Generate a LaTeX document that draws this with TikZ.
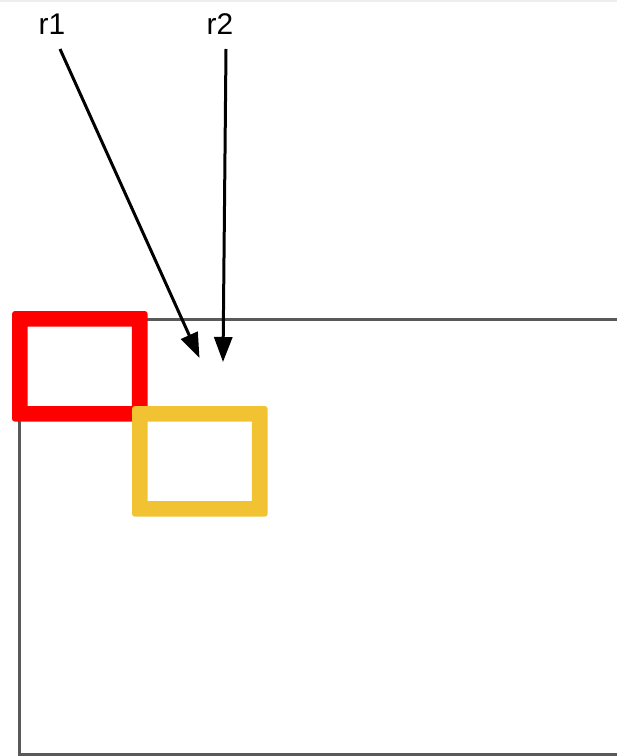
\documentclass[tikz,border=0pt]{standalone}
\usepackage{fontspec}
\setmainfont{Liberation Sans}
\usetikzlibrary{arrows.meta}
\definecolor{boxgray}{HTML}{595959}
\definecolor{boxyellow}{HTML}{F1C232}
\definecolor{topgray}{HTML}{EEEEEE}
\begin{document}
\begin{tikzpicture}[x=1bp,y=-1bp,
  lbl/.style={anchor=base,inner sep=0pt,font=\fontsize{30}{36}\selectfont},
  arr/.style={line width=3bp,-{Triangle[length=25bp,width=18bp]}}]
\useasboundingbox (0,0) rectangle (617,756);
\fill[topgray] (0,0) rectangle (617,2);
\begin{scope}
\clip (0,0) rectangle (617,756);
\draw[boxgray,line width=3bp] (640,319) -- (19.5,319) -- (19.5,754.5) -- (640,754.5);
\end{scope}
% red box
\fill[red,even odd rule] [rounded corners=3bp] (12,311) rectangle (147.7,421.7) [sharp corners] (27.5,326.6) rectangle (131.9,406);
% yellow box
\fill[boxyellow,even odd rule] [rounded corners=3bp] (132,406) rectangle (267.7,516.7) [sharp corners] (147.5,421.6) rectangle (251.9,501);
% labels
\node[lbl] (r1) at (52,35) {r1};
\node[lbl] (r2) at (220,35) {r2};
\coordinate (s1) at (60,49);
\coordinate (e1) at (199.5,358);
\coordinate (s2) at (226,49);
\coordinate (e2) at (223,362);
\draw[arr] (s1) -- (e1);
\draw[arr] (s2) -- (e2);
\end{tikzpicture}
\end{document}
